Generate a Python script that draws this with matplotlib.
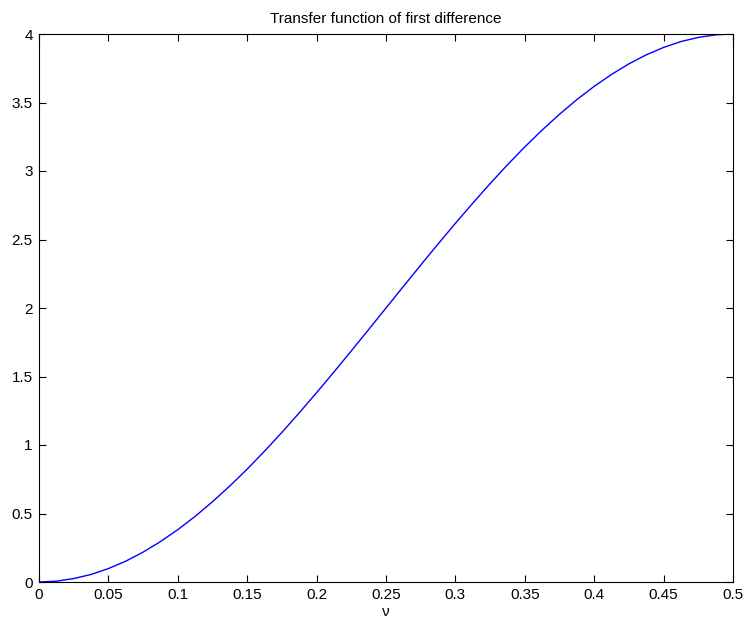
import matplotlib
matplotlib.use("Agg")
import matplotlib.pyplot as plt
from matplotlib.ticker import FormatStrFormatter, MultipleLocator

plt.rcParams['font.family'] = ['Liberation Sans', 'DejaVu Sans']

# frequency grid and transfer function values
nu = [0.0, 0.0125, 0.025, 0.0375, 0.05, 0.0625, 0.075, 0.0875, 0.1, 0.1125,
      0.125, 0.1375, 0.15, 0.1625, 0.175, 0.1875, 0.2, 0.2125, 0.225, 0.2375,
      0.25, 0.2625, 0.275, 0.2875, 0.3, 0.3125, 0.325, 0.3375, 0.35, 0.3625,
      0.375, 0.3875, 0.4, 0.4125, 0.425, 0.4375, 0.45, 0.4625, 0.475, 0.4875, 0.5]
gain = [0.0, 0.006, 0.025, 0.055, 0.098, 0.152, 0.218, 0.295, 0.382, 0.479,
        0.586, 0.701, 0.824, 0.955, 1.092, 1.235, 1.382, 1.533, 1.687, 1.843,
        2.0, 2.157, 2.313, 2.467, 2.618, 2.765, 2.908, 3.045, 3.176, 3.299,
        3.414, 3.521, 3.618, 3.705, 3.782, 3.848, 3.902, 3.945, 3.975, 3.994, 4.0]

fig = plt.figure(figsize=(7.44, 6.18), dpi=100)
ax = fig.add_axes([39 / 744, 36 / 618, 694 / 744, 548 / 618])

ax.plot(nu, gain, color='blue', linewidth=1.0)

ax.set_xlim(0, 0.5)
ax.set_ylim(0, 4)
ax.xaxis.set_major_locator(MultipleLocator(0.05))
ax.yaxis.set_major_locator(MultipleLocator(0.5))
ax.xaxis.set_major_formatter(FormatStrFormatter('%g'))
ax.yaxis.set_major_formatter(FormatStrFormatter('%g'))
ax.tick_params(direction='in', length=5, width=0.8, labelsize=11,
               top=True, right=True, pad=4.5)
for s in ax.spines.values():
    s.set_linewidth(0.8)

ax.set_title('Transfer function of first difference', fontsize=11, pad=8)
ax.set_xlabel('ν', fontsize=11, labelpad=2)

fig.savefig('out.png', dpi=100)
